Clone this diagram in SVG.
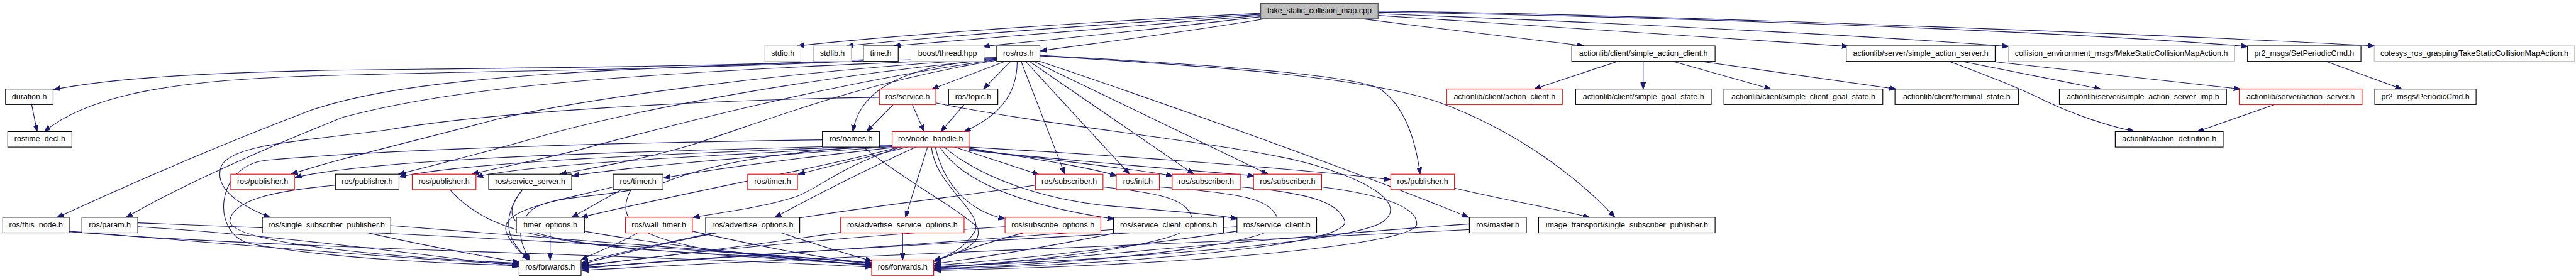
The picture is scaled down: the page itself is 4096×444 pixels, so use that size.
<svg xmlns="http://www.w3.org/2000/svg" width="4096" height="444" viewBox="0 0 4096 444">
<defs>
<style>
.n rect{fill:#fff;stroke:#000;stroke-width:1.3}
.r rect{stroke:#ff0000}
.g rect{stroke:#bfbfbf}
.root rect{fill:#bfbfbf;stroke:#404040}
text{font-family:"Liberation Sans",Arial,sans-serif;font-size:14.2px;text-anchor:middle;fill:#000}
#edges path{fill:none;stroke:#191970;stroke-width:1.25;marker-end:url(#a)}
</style>
<marker id="a" markerWidth="13" markerHeight="10" refX="12" refY="4.5" orient="auto" markerUnits="userSpaceOnUse">
<path d="M0,0 L12,4.5 L0,9 z" fill="#191970" stroke="#191970" stroke-width="1"/>
</marker>
</defs>
<rect width="4096" height="444" fill="#fff"/>
<g transform="scale(0.88)">
<g id="edges">
<!-- root -->
<path d="M2278,24 C2000,38 1650,60 1441,83"/>
<path d="M2278,26 C2020,42 1720,64 1530,83"/>
<path d="M2278,28 C2060,47 1780,68 1615,83"/>
<path d="M2280,30 C2110,50 1920,70 1776,84"/>
<path d="M2285,34 C2150,57 1980,78 1880,92"/>
<path d="M2460,34 C2600,52 2760,70 2862,83"/>
<path d="M2490,28 C2800,48 3150,72 3340,84"/>
<path d="M2490,25 C2900,40 3400,66 3630,84"/>
<path d="M2490,22 C3000,30 3700,55 4062,84"/>
<path d="M2490,20 C3000,27 3900,62 4291,83"/>
<!-- time.h -->
<path d="M1560,108 C1300,122 800,124 600,127 C350,132 200,142 97,162"/>
<path d="M1560,110 C1200,128 700,130 500,140 C280,150 150,180 80,238"/>
<path d="M57,188 L67,238"/>
<!-- ros.h -->
<path d="M1816,111 L1684,161"/>
<path d="M1826,111 L1777,161"/>
<path d="M1801,108 C1660,115 1555,150 1541,238"/>
<path d="M1838,111 C1838,175 1800,212 1742,238"/>
<path d="M1845,111 L1924,315"/>
<path d="M1853,111 L2041,315"/>
<path d="M1860,111 L2157,315"/>
<path d="M1868,111 L2291,315"/>
<path d="M1879,100 C2200,118 2440,135 2492,160 C2545,195 2560,270 2566,315"/>
<path d="M1879,101 C2200,120 2470,140 2600,185 C2750,240 2860,330 2918,393"/>
<path d="M1879,111 C2100,185 2450,310 2654,393"/>
<path d="M1801,104 C1100,122 750,135 560,200 C350,280 200,350 103,393"/>
<path d="M1801,105 C1200,130 850,150 620,212 C450,280 320,340 228,393"/>
<path d="M1801,106 C1400,130 1050,180 900,215 C750,255 600,290 526,315"/>
<path d="M1801,107 C1450,140 1150,200 1000,240 C880,275 780,300 720,315"/>
<path d="M1801,108 C1500,150 1200,230 1050,270 C950,295 890,305 853,315"/>
<path d="M1801,109 C1550,150 1380,220 1250,262 C1150,292 1060,305 1012,315"/>
<!-- service.h / topic.h -->
<path d="M1615,188 L1566,238"/>
<path d="M1648,188 L1670,238"/>
<path d="M1589,176 C1300,180 900,200 700,235 C550,255 420,260 400,300 C385,340 430,370 488,393"/>
<path d="M1691,186 C1900,230 2250,260 2380,300 C2480,330 2540,370 2500,400 C2450,440 2000,470 1688,482"/>
<path d="M1743,188 L1700,238"/>
<!-- names.h -->
<path d="M1486,253 C1100,258 700,270 480,290 C390,300 380,420 450,440 C600,470 850,478 937,480"/>
<path d="M1560,266 C1640,330 1720,370 1765,410 C1780,440 1730,460 1688,470"/>
<!-- node_handle.h -->
<path d="M1612,262 C1250,272 700,282 533,321"/>
<path d="M1612,263 C1300,275 850,290 722,320"/>
<path d="M1613,264 C1350,278 950,296 861,320"/>
<path d="M1615,265 C1400,280 1150,300 1034,318"/>
<path d="M1620,266 C1450,285 1290,305 1199,322"/>
<path d="M1640,266 L1442,315"/>
<path d="M1625,266 C1500,300 1250,345 1050,393"/>
<path d="M1628,266 C1520,300 1480,340 1440,355 C1380,375 1300,385 1252,393"/>
<path d="M1655,266 C1580,300 1480,350 1400,393"/>
<path d="M1676,266 L1636,393"/>
<path d="M1683,266 C1690,340 1790,390 1757,425 C1740,450 1715,462 1688,472"/>
<path d="M1690,266 C1705,330 1745,380 1816,396"/>
<path d="M1698,266 C1740,330 1850,372 2013,396"/>
<path d="M1706,266 C1770,320 1880,360 2000,372 C2120,382 2200,388 2236,396"/>
<path d="M1725,266 L1878,316"/>
<path d="M1751,268 C1850,285 1960,300 2018,318"/>
<path d="M1751,270 C1900,290 2050,305 2119,318"/>
<path d="M1751,272 C1950,292 2150,308 2266,318"/>
<path d="M1751,266 C2000,280 2350,305 2513,325"/>
<path d="M1612,264 C1450,270 1300,290 1200,330 C1100,360 1000,350 960,380 C930,410 940,440 957,470"/>
<!-- R4 -> below -->
<path d="M813,343 C880,420 1000,445 1300,460 C1450,468 1520,475 1575,480"/>
<path d="M944,343 C900,400 920,440 957,470"/>
<path d="M944,343 C890,410 950,430 1150,450 C1350,465 1500,475 1575,478"/>
<path d="M1123,343 L1033,393"/>
<path d="M1108,338 C1000,365 900,380 915,420 C925,445 945,460 955,470"/>
<path d="M1140,343 C1110,400 1150,430 1300,455 C1450,470 1520,476 1575,481"/>
<path d="M606,335 C500,345 420,360 415,400 C420,440 700,465 938,476"/>
<path d="M1871,335 C1700,360 1500,380 1300,420 C1150,450 1080,470 1051,478"/>
<path d="M1993,338 C2100,350 2150,360 2155,400 C2160,440 1900,470 1688,484"/>
<path d="M2095,338 C2250,350 2300,360 2310,400 C2320,440 2000,475 1688,486"/>
<path d="M2241,338 C2380,350 2420,370 2430,400 C2440,440 2100,475 1688,487"/>
<path d="M2388,338 C2520,355 2560,380 2560,405 C2560,440 2200,478 1688,489"/>
<path d="M2628,340 C2700,358 2800,375 2872,393"/>
<!-- R5 -> forwards -->
<path d="M125,418 C400,440 750,470 938,478"/>
<path d="M125,419 C500,450 1200,462 1575,483"/>
<path d="M249,410 C500,425 800,465 938,482"/>
<path d="M249,403 C700,420 1300,450 1575,477"/>
<path d="M660,420 C750,440 850,460 938,474"/>
<path d="M706,408 C1000,430 1350,460 1575,475"/>
<path d="M994,420 L994,470"/>
<path d="M1056,418 C1200,445 1450,470 1575,479"/>
<path d="M1154,420 C1120,440 1080,455 1050,470"/>
<path d="M1251,418 C1350,440 1480,468 1575,476"/>
<path d="M1293,420 C1200,440 1100,460 1051,476"/>
<path d="M1408,420 C1470,440 1530,460 1576,472"/>
<path d="M1631,420 L1631,470"/>
<path d="M1520,420 C1350,445 1150,470 1051,480"/>
<path d="M1853,420 C1780,440 1720,460 1688,473"/>
<path d="M1816,410 C1500,430 1200,460 1051,482"/>
<path d="M2022,420 C1900,445 1780,465 1688,477"/>
<path d="M2012,415 C1700,440 1300,465 1051,484"/>
<path d="M2235,418 C2050,445 1850,468 1688,480"/>
<path d="M2235,410 C1900,430 1300,460 1051,486"/>
<path d="M2655,405 C2300,430 1900,470 1688,485"/>
<path d="M2655,415 C2200,440 1500,462 1051,489"/>
<!-- actionlib -->
<path d="M2923,111 L2772,161"/>
<path d="M2969,111 L2969,161"/>
<path d="M3023,111 L3200,161"/>
<path d="M3073,111 L3426,161"/>
<path d="M3545,111 L3796,161"/>
<path d="M3598,111 L4048,161"/>
<path d="M3522,111 C3600,140 3650,160 3680,175 C3740,205 3800,225 3857,238"/>
<path d="M4113,188 L3970,238"/>
<path d="M4203,111 L4340,161"/>
</g>

<g id="n_root" class="n root"><rect x="2278" y="6" width="212" height="28"/><text x="2384" y="24">take_static_collision_map.cpp</text></g>
<g id="n_stdio" class="n g"><rect x="1382" y="83" width="65" height="28"/><text x="1414.5" y="101">stdio.h</text></g>
<g id="n_stdlib" class="n g"><rect x="1470" y="83" width="68" height="28"/><text x="1504" y="101">stdlib.h</text></g>
<g id="n_time" class="n"><rect x="1560" y="83" width="63" height="28"/><text x="1591.5" y="101">time.h</text></g>
<g id="n_boost" class="n g"><rect x="1646" y="83" width="132" height="28"/><text x="1712" y="101">boost/thread.hpp</text></g>
<g id="n_ros" class="n"><rect x="1801" y="83" width="78" height="28"/><text x="1840" y="101">ros/ros.h</text></g>
<g id="n_sac" class="n"><rect x="2840" y="83" width="259" height="28"/><text x="2969.5" y="101">actionlib/client/simple_action_client.h</text></g>
<g id="n_sas" class="n"><rect x="3336" y="83" width="269" height="28"/><text x="3470.5" y="101">actionlib/server/simple_action_server.h</text></g>
<g id="n_cem" class="n g"><rect x="3629" y="83" width="408" height="28"/><text x="3833" y="101">collision_environment_msgs/MakeStaticCollisionMapAction.h</text></g>
<g id="n_spc" class="n"><rect x="4061" y="83" width="205" height="28"/><text x="4163.5" y="101">pr2_msgs/SetPeriodicCmd.h</text></g>
<g id="n_cot" class="n g"><rect x="4290" y="83" width="362" height="28"/><text x="4471" y="101">cotesys_ros_grasping/TakeStaticCollisionMapAction.h</text></g>

<g id="n_duration" class="n"><rect x="10" y="161" width="86" height="28"/><text x="53" y="179">duration.h</text></g>
<g id="n_service" class="n r"><rect x="1589" y="161" width="102" height="28"/><text x="1640" y="179">ros/service.h</text></g>
<g id="n_topic" class="n"><rect x="1714" y="161" width="89" height="28"/><text x="1758.5" y="179">ros/topic.h</text></g>
<g id="n_ac" class="n r"><rect x="2614" y="161" width="209" height="28"/><text x="2718.5" y="179">actionlib/client/action_client.h</text></g>
<g id="n_sgs" class="n"><rect x="2847" y="161" width="245" height="28"/><text x="2969.5" y="179">actionlib/client/simple_goal_state.h</text></g>
<g id="n_scgs" class="n"><rect x="3115" y="161" width="287" height="28"/><text x="3258.5" y="179">actionlib/client/simple_client_goal_state.h</text></g>
<g id="n_ts" class="n"><rect x="3424" y="161" width="223" height="28"/><text x="3535.5" y="179">actionlib/client/terminal_state.h</text></g>
<g id="n_sasi" class="n"><rect x="3721" y="161" width="302" height="28"/><text x="3872" y="179">actionlib/server/simple_action_server_imp.h</text></g>
<g id="n_as" class="n r"><rect x="4046" y="161" width="222" height="28"/><text x="4157" y="179">actionlib/server/action_server.h</text></g>
<g id="n_pc" class="n"><rect x="4291" y="161" width="183" height="28"/><text x="4382.5" y="179">pr2_msgs/PeriodicCmd.h</text></g>

<g id="n_rostime" class="n"><rect x="14" y="238" width="116" height="28"/><text x="72" y="256">rostime_decl.h</text></g>
<g id="n_names" class="n"><rect x="1486" y="238" width="103" height="28"/><text x="1537.5" y="256">ros/names.h</text></g>
<g id="n_nh" class="n r"><rect x="1612" y="238" width="139" height="28"/><text x="1681.5" y="256">ros/node_handle.h</text></g>
<g id="n_ad" class="n"><rect x="3822" y="238" width="195" height="28"/><text x="3919.5" y="256">actionlib/action_definition.h</text></g>

<g id="n_pubA" class="n r"><rect x="417" y="315" width="115" height="28"/><text x="474.5" y="333">ros/publisher.h</text></g>
<g id="n_pubK" class="n"><rect x="606" y="315" width="115" height="28"/><text x="663.5" y="333">ros/publisher.h</text></g>
<g id="n_pubB" class="n r"><rect x="745" y="315" width="115" height="28"/><text x="802.5" y="333">ros/publisher.h</text></g>
<g id="n_ss" class="n"><rect x="883" y="315" width="150" height="28"/><text x="958" y="333">ros/service_server.h</text></g>
<g id="n_timerK" class="n"><rect x="1108" y="315" width="90" height="28"/><text x="1153" y="333">ros/timer.h</text></g>
<g id="n_timerR" class="n r"><rect x="1351" y="315" width="90" height="28"/><text x="1396" y="333">ros/timer.h</text></g>
<g id="n_sub1" class="n r"><rect x="1871" y="315" width="122" height="28"/><text x="1932" y="333">ros/subscriber.h</text></g>
<g id="n_init" class="n r"><rect x="2017" y="315" width="78" height="28"/><text x="2056" y="333">ros/init.h</text></g>
<g id="n_sub2" class="n r"><rect x="2118" y="315" width="123" height="28"/><text x="2179.5" y="333">ros/subscriber.h</text></g>
<g id="n_sub3" class="n r"><rect x="2265" y="315" width="123" height="28"/><text x="2326.5" y="333">ros/subscriber.h</text></g>
<g id="n_pubC" class="n r"><rect x="2513" y="315" width="115" height="28"/><text x="2570.5" y="333">ros/publisher.h</text></g>

<g id="n_thisnode" class="n"><rect x="5" y="393" width="120" height="28"/><text x="65" y="411">ros/this_node.h</text></g>
<g id="n_param" class="n"><rect x="148" y="393" width="101" height="28"/><text x="198.5" y="411">ros/param.h</text></g>
<g id="n_ssp" class="n"><rect x="474" y="393" width="232" height="28"/><text x="590" y="411">ros/single_subscriber_publisher.h</text></g>
<g id="n_to" class="n"><rect x="933" y="393" width="123" height="28"/><text x="994.5" y="411">timer_options.h</text></g>
<g id="n_wt" class="n r"><rect x="1130" y="393" width="121" height="28"/><text x="1190.5" y="411">ros/wall_timer.h</text></g>
<g id="n_ao" class="n"><rect x="1275" y="393" width="170" height="28"/><text x="1360" y="411">ros/advertise_options.h</text></g>
<g id="n_aso" class="n r"><rect x="1519" y="393" width="223" height="28"/><text x="1630.5" y="411">ros/advertise_service_options.h</text></g>
<g id="n_so" class="n r"><rect x="1816" y="393" width="173" height="28"/><text x="1902.5" y="411">ros/subscribe_options.h</text></g>
<g id="n_sco" class="n"><rect x="2012" y="393" width="199" height="28"/><text x="2111.5" y="411">ros/service_client_options.h</text></g>
<g id="n_sc" class="n"><rect x="2235" y="393" width="144" height="28"/><text x="2307" y="411">ros/service_client.h</text></g>
<g id="n_master" class="n"><rect x="2655" y="393" width="103" height="28"/><text x="2706.5" y="411">ros/master.h</text></g>
<g id="n_itssp" class="n"><rect x="2780" y="393" width="319" height="28"/><text x="2939.5" y="411">image_transport/single_subscriber_publisher.h</text></g>

<g id="n_fwdK" class="n"><rect x="938" y="470" width="112" height="28"/><text x="994" y="488">ros/forwards.h</text></g>
<g id="n_fwdR" class="n r"><rect x="1575" y="470" width="112" height="28"/><text x="1631" y="488">ros/forwards.h</text></g>
</g>
</svg>
